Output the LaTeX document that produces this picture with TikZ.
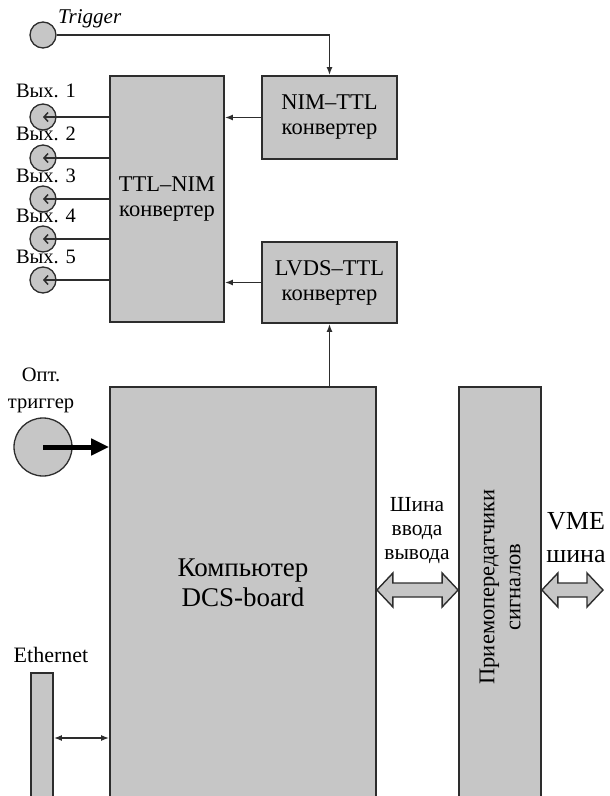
\documentclass[tikz,border=0pt]{standalone}
\usepackage{fontspec}
\setmainfont{Liberation Serif}
\usetikzlibrary{arrows.meta}
\definecolor{boxfill}{RGB}{198,198,198}
\definecolor{edge}{RGB}{45,45,45}
\begin{document}
\begin{tikzpicture}[x=1pt,y=-1pt,
  box/.style={draw=edge, line width=1.8pt, fill=boxfill, inner sep=0pt, align=center,
    font=\fontsize{22.5}{25}\selectfont},
  port/.style={circle, draw=edge, line width=1.3pt, fill=boxfill, minimum size=26pt, inner sep=0pt},
  wire/.style={draw=edge, line width=1.5pt},
  tip/.style={-{Latex[length=8pt,width=6pt]}},
  lbl/.style={font=\fontsize{20.5}{23}\selectfont, inner sep=0pt, align=center},
  fat/.style={draw=edge, line width=1.4pt, fill=boxfill, line join=miter}
]
\useasboundingbox (0,0) rectangle (610,796);
\begin{scope}
\clip (0,0) rectangle (610,796);
% boxes
\node[box, minimum width=135pt, minimum height=83pt] (nim) at (329.5,117.5) {NIM–TTL\\конвертер};
\node[box, minimum width=114pt, minimum height=246pt] (ttl) at (167,199) {TTL–NIM\\конвертер};
\node[box, minimum width=135pt, minimum height=81pt] (lvds) at (329.5,282.5) {LVDS–TTL\\конвертер};
\node[box, minimum width=266pt, minimum height=433pt] (dcs) at (243,603.5) {};
\node[box, minimum width=82pt, minimum height=433pt] (trans) at (500,603.5) {};
\node[box, minimum width=22pt, minimum height=147pt] (eth) at (42,746.5) {};
% ports
\node[port] (trig) at (43,35) {};
\node[port] (o1) at (43,117) {};
\node[port] (o2) at (43,158) {};
\node[port] (o3) at (43,199) {};
\node[port] (o4) at (43,239) {};
\node[port] (o5) at (43,280) {};
\node[port, minimum size=58pt] (opt) at (43,447) {};
% labels
\node[lbl, anchor=west, font=\fontsize{21}{23}\selectfont\itshape] (trigtxt) at (58,19) {Trigger};
\node[lbl] (l1) at (46,91) {Вых. 1};
\node[lbl] (l2) at (46,134) {Вых. 2};
\node[lbl] (l3) at (46,176) {Вых. 3};
\node[lbl] (l4) at (46,216) {Вых. 4};
\node[lbl] (l5) at (46,257) {Вых. 5};
\node[lbl, font=\fontsize{20.5}{27}\selectfont] (opttxt) at (41,390) {Опт.\\триггер};
\node[lbl, font=\fontsize{27}{30}\selectfont] (dcstxt) at (243,583) {Компьютер\\DCS-board};
\node[lbl, font=\fontsize{21.5}{24}\selectfont] (bustxt) at (417,531) {Шина\\ввода\\вывода};
\node[lbl, font=\fontsize{26}{33}\selectfont] (vmetxt) at (576,538) {VME\\шина};
\node[lbl, font=\fontsize{22}{24}\selectfont] (ethtxt) at (51,655) {Ethernet};
\node[lbl, font=\fontsize{22.5}{26}\selectfont, rotate=90] (transtxt) at (500,587) {Приемопередатчики\\сигналов};
% connectors
\draw[wire, tip] (trig.east) -| (nim.north);
\foreach \o in {o1,o2,o3,o4,o5}
  \draw[wire, -{Straight Barb[length=4pt,width=9pt]}] (ttl.west |- \o) -- (\o.center);
\draw[wire, tip] (nim.west) -- (ttl.east |- nim.west);
\draw[wire, tip] (lvds.west) -- (ttl.east |- lvds.west);
\draw[wire, tip] (dcs.north -| lvds.south) -- (lvds.south);
\draw[black, line width=5pt, -{Triangle[length=18pt,width=16pt]}] (opt.center) -- (opt.center -| dcs.west);
\coordinate (ey) at (0,738);
\draw[wire, {Latex[length=8pt,width=6pt]}-{Latex[length=8pt,width=6pt]}] (eth.east |- ey) -- (dcs.west |- ey);
% fat double arrows
\coordinate (bus) at (0,590);
\coordinate (bl) at (dcs.east |- bus);
\coordinate (br) at (trans.west |- bus);
\draw[fat] (bl) -- ([shift={(16,-17)}]bl) -- ([shift={(16,-7)}]bl) -- ([shift={(-16,-7)}]br)
  -- ([shift={(-16,-17)}]br) -- (br) -- ([shift={(-16,17)}]br) -- ([shift={(-16,7)}]br)
  -- ([shift={(16,7)}]bl) -- ([shift={(16,17)}]bl) -- cycle;
\coordinate (vl) at (trans.east |- bus);
\coordinate (vr) at (603,590);
\draw[fat] (vl) -- ([shift={(16,-17)}]vl) -- ([shift={(16,-7)}]vl) -- ([shift={(-16,-7)}]vr)
  -- ([shift={(-16,-17)}]vr) -- (vr) -- ([shift={(-16,17)}]vr) -- ([shift={(-16,7)}]vr)
  -- ([shift={(16,7)}]vl) -- ([shift={(16,17)}]vl) -- cycle;
\end{scope}
\end{tikzpicture}
\end{document}
